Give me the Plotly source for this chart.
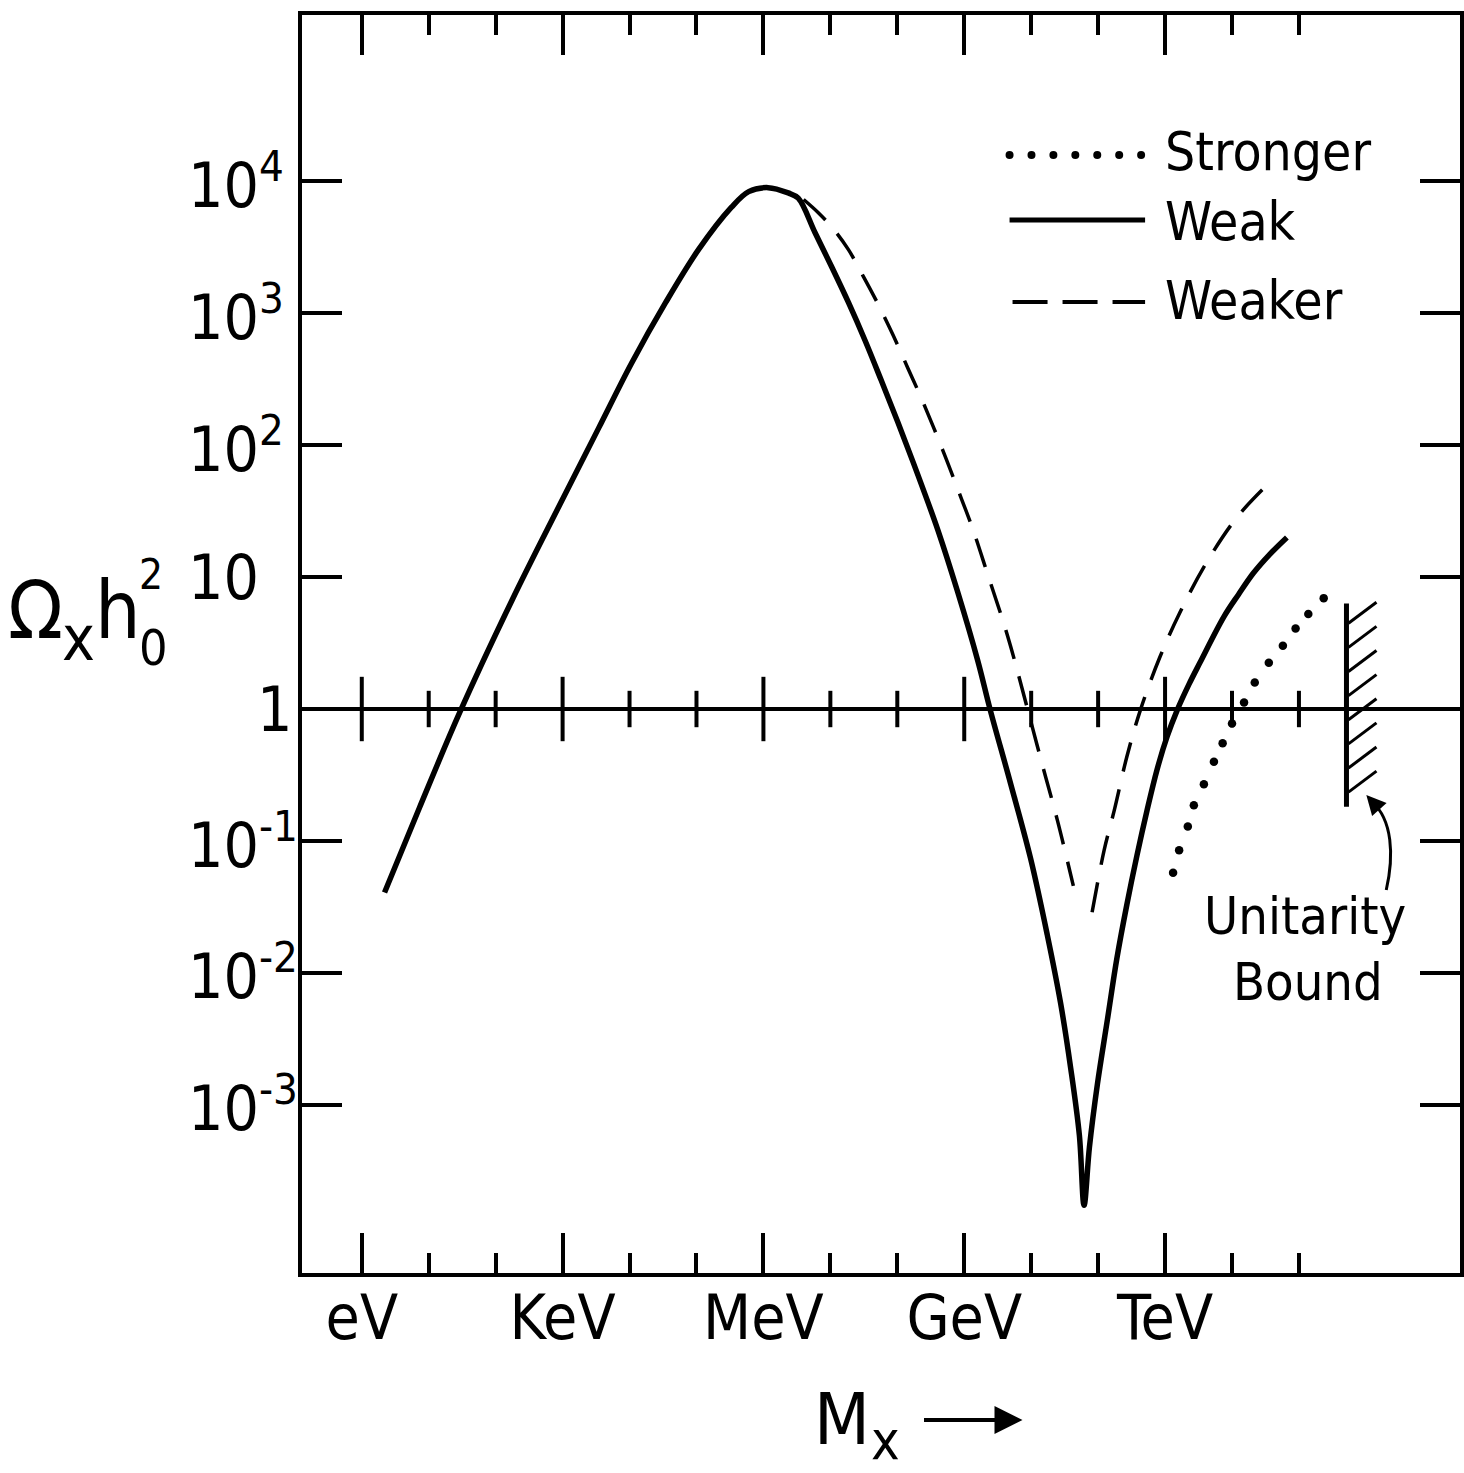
import plotly.graph_objects as go

# ---------------- data (log10 of M_x in eV, log10 of Omega_x h0^2) ----------------
weak_log_m = [0.34, 0.86, 1.46, 2.25, 2.95, 3.54, 4.03, 4.54, 5.03, 5.52, 5.78, 6.07, 6.37,
              6.52, 6.77, 7.01, 7.27, 7.52, 7.76, 8.01, 8.31, 8.61, 8.90, 9.20, 9.39, 9.69,
              9.99, 10.24, 10.44, 10.59, 10.72, 10.79, 10.87, 10.99, 11.14, 11.28, 11.43,
              11.58, 11.73, 11.88, 12.03, 12.18, 12.36, 12.52, 12.88, 13.10, 13.32, 13.56, 13.82]
weak_log_omega = [-1.39, -0.75, -0.03, 0.83, 1.54, 2.13, 2.62, 3.08, 3.48, 3.80, 3.92, 3.95, 3.91,
                  3.87, 3.61, 3.36, 3.08, 2.79, 2.49, 2.17, 1.77, 1.35, 0.89, 0.37, -0.01, -0.56,
                  -1.13, -1.71, -2.23, -2.72, -3.23, -3.76, -3.32, -2.84, -2.35, -1.89, -1.48,
                  -1.11, -0.77, -0.46, -0.21, -0.01, 0.19, 0.35, 0.70, 0.87, 1.03, 1.17, 1.30]

# "Weaker" curve: two branches separated by a gap (None)
weaker_log_m = [6.60, 6.82, 7.04, 7.27, 7.49, 7.71, 7.94, 8.16, 8.38, 8.68, 8.90, 9.13, 9.35,
                9.65, 9.94, 10.16, 10.39, 10.63, None,
                10.91, 11.09, 11.24, 11.43, 11.63, 11.92, 12.22, 12.62, 13.07, 13.47]
weaker_log_omega = [3.86, 3.76, 3.64, 3.48, 3.28, 3.07, 2.83, 2.58, 2.33, 1.96, 1.67, 1.36, 1.02,
                    0.55, 0.01, -0.41, -0.84, -1.34, None,
                    -1.54, -1.07, -0.77, -0.36, -0.01, 0.39, 0.73, 1.11, 1.45, 1.67]

# "Stronger" curve (drawn as dots)
stronger_log_m = [12.12, 12.21, 12.34, 12.43, 12.58, 12.73, 12.86, 13.00, 13.18, 13.34, 13.55,
                  13.76, 13.95, 14.14, 14.37]
stronger_log_omega = [-1.24, -1.07, -0.89, -0.73, -0.57, -0.40, -0.26, -0.11, 0.05, 0.20, 0.35,
                      0.48, 0.61, 0.72, 0.84]

# Unitarity bound
bound_log_m = 14.71
bound_log_omega = [-0.74, 0.80]

# axis ticks
x_major_decades = [0, 3, 6, 9, 12]
x_major_labels = ["eV", "KeV", "MeV", "GeV", "TeV"]
x_minor_decades = [1, 2, 4, 5, 7, 8, 10, 11, 13, 14]
y_decades = [-3, -2, -1, 0, 1, 2, 3, 4]
y_labels = ["10<sup>-3</sup>", "10<sup>-2</sup>", "10<sup>-1</sup>", "1", "10",
            "10<sup>2</sup>", "10<sup>3</sup>", "10<sup>4</sup>"]

legend_names = ["Stronger", "Weak", "Weaker"]

# ---------------- layout geometry ----------------
W, H = 1464, 1473
ML, MR, MT, MB = 302, 0, 15, 200
X_RANGE = [-0.893, 16.406]
Y_RANGE = [-4.273, 5.258]
FONT = "Liberation Sans Narrow, DejaVu Sans Condensed, Liberation Sans, DejaVu Sans, sans-serif"


def px(x):
    return (x - ML) / (W - ML - MR)


def py(y):
    return (H - MB - y) / (H - MT - MB)


def p10(vals):
    return [None if v is None else 10 ** v for v in vals]


fig = go.Figure()

# Weak (solid)
fig.add_trace(go.Scatter(x=p10(weak_log_m), y=p10(weak_log_omega), mode="lines",
                         line=dict(color="black", width=5.5, shape="spline", smoothing=1.0),
                         name=legend_names[1], showlegend=False))
# Weaker (dashed)
fig.add_trace(go.Scatter(x=p10(weaker_log_m), y=p10(weaker_log_omega), mode="lines",
                         connectgaps=False,
                         line=dict(color="black", width=3.5, dash="30px,18px", shape="spline", smoothing=1.0),
                         name=legend_names[2], showlegend=False))
# Stronger (dotted)
fig.add_trace(go.Scatter(x=p10(stronger_log_m), y=p10(stronger_log_omega), mode="markers",
                         marker=dict(color="black", size=8.5, symbol="circle"),
                         name=legend_names[0], showlegend=False))
# Unitarity bound line
fig.add_trace(go.Scatter(x=[10 ** bound_log_m] * 2, y=p10(bound_log_omega), mode="lines",
                         line=dict(color="black", width=5), showlegend=False))

# Omega = 1 line with crossing ticks
fig.add_shape(type="line", xref="paper", x0=0, x1=1, yref="y", y0=1, y1=1,
              line=dict(color="black", width=4))
fig.add_trace(go.Scatter(x=p10(x_major_decades), y=[1] * len(x_major_decades), mode="markers",
                         marker=dict(symbol="line-ns", size=46, line=dict(width=4, color="black")),
                         showlegend=False, hoverinfo="skip"))
fig.add_trace(go.Scatter(x=p10(x_minor_decades), y=[1] * len(x_minor_decades), mode="markers",
                         marker=dict(symbol="line-ns", size=26, line=dict(width=4, color="black")),
                         showlegend=False, hoverinfo="skip"))

# hatching of the unitarity bound
lo, hi = -0.63, 0.65
n_hatch = 8
for i in range(n_hatch):
    ya = lo + (hi - lo) * i / (n_hatch - 1)
    fig.add_shape(type="line", xref="x", yref="y", xsizemode="pixel", ysizemode="pixel",
                  xanchor=10 ** bound_log_m, yanchor=10 ** ya, x0=2, x1=30, y0=0, y1=21,
                  line=dict(color="black", width=3))

# curved arrow pointing to the bound
fig.add_shape(type="path", xref="paper", yref="paper",
              path=f"M {px(1390)},{py(890)} C {px(1398)},{py(855)} {px(1396)},{py(820)} {px(1376)},{py(802)}",
              line=dict(color="black", width=3))
fig.add_annotation(xref="paper", yref="paper", x=px(1370), y=py(795), ax=9, ay=10,
                   text="", showarrow=True, arrowhead=2, arrowsize=1.3, arrowwidth=3,
                   arrowcolor="black")
fig.add_annotation(xref="paper", yref="paper", x=px(1308), y=py(916), text="Unitarity",
                   showarrow=False, font=dict(family=FONT, size=52, color="black"),
                   xanchor="center", yanchor="middle")
fig.add_annotation(xref="paper", yref="paper", x=px(1311), y=py(982), text="Bound",
                   showarrow=False, font=dict(family=FONT, size=52, color="black"),
                   xanchor="center", yanchor="middle")

# custom legend
for i in range(7):
    xc = 1012 + i * (1144 - 1012) / 6
    fig.add_shape(type="circle", xref="paper", yref="paper", xsizemode="pixel", ysizemode="pixel",
                  xanchor=px(xc), yanchor=py(155), x0=-4, x1=4, y0=-4, y1=4,
                  fillcolor="black", line=dict(color="black", width=0))
fig.add_shape(type="line", xref="paper", yref="paper", x0=px(1012), x1=px(1148), y0=py(220), y1=py(220),
              line=dict(color="black", width=5))
fig.add_shape(type="line", xref="paper", yref="paper", x0=px(1015), x1=px(1148), y0=py(302), y1=py(302),
              line=dict(color="black", width=4, dash="35px,15px"))
for name, yy in zip(legend_names, [152, 222, 300]):
    fig.add_annotation(xref="paper", yref="paper", x=px(1166), y=py(yy), text=name, showarrow=False,
                       font=dict(family=FONT, size=53, color="black"), xanchor="left", yanchor="middle")

# y axis tick labels (hand placed as in the original lettering)
for d, lab in zip(y_decades, y_labels):
    fig.add_annotation(xref="paper", yref="y", x=px(255 if lab == "1" else 186), y=d, text=lab,
                       showarrow=False, font=dict(family=FONT, size=62, color="black"),
                       xanchor="left", yanchor="middle")

# y axis title (Omega_x h_0^2)
fig.add_annotation(xref="paper", yref="paper", x=px(35), y=py(610), text="Ω", showarrow=False,
                   font=dict(family=FONT, size=80, color="black"), xanchor="center", yanchor="middle")
fig.add_annotation(xref="paper", yref="paper", x=px(78), y=py(638), text="x", showarrow=False,
                   font=dict(family=FONT, size=62, color="black"), xanchor="center", yanchor="middle")
fig.add_annotation(xref="paper", yref="paper", x=px(117), y=py(610), text="h", showarrow=False,
                   font=dict(family=FONT, size=80, color="black"), xanchor="center", yanchor="middle")
fig.add_annotation(xref="paper", yref="paper", x=px(150), y=py(574), text="2", showarrow=False,
                   font=dict(family=FONT, size=42, color="black"), xanchor="center", yanchor="middle")
fig.add_annotation(xref="paper", yref="paper", x=px(153), y=py(648), text="0", showarrow=False,
                   font=dict(family=FONT, size=50, color="black"), xanchor="center", yanchor="middle")

# x axis title M_x ->
fig.add_annotation(xref="paper", yref="paper", x=px(844), y=py(1419), text="M",
                   showarrow=False, font=dict(family=FONT, size=72, color="black"),
                   xanchor="center", yanchor="middle")
fig.add_annotation(xref="paper", yref="paper", x=px(888), y=py(1440), text="x",
                   showarrow=False, font=dict(family=FONT, size=54, color="black"),
                   xanchor="center", yanchor="middle")
fig.add_annotation(xref="paper", yref="paper", x=px(1025), y=py(1420), ax=-100, ay=0, text="",
                   showarrow=True, arrowhead=2, arrowsize=1.4, arrowwidth=4, arrowcolor="black")

axis_common = dict(showline=True, linewidth=4, linecolor="black", mirror="ticks", ticks="inside",
                   ticklen=40, tickwidth=4, tickcolor="black", showgrid=False, zeroline=False)

fig.update_layout(
    width=W, height=H, margin=dict(l=ML, r=MR, t=MT, b=MB, pad=0),
    paper_bgcolor="white", plot_bgcolor="white", showlegend=False,
    xaxis=dict(type="log", range=X_RANGE, tickmode="array", tickvals=p10(x_major_decades),
               ticktext=x_major_labels, tickfont=dict(family=FONT, size=62, color="black"),
               ticklabelstandoff=-12,
               minor=dict(tickmode="array", tickvals=p10(x_minor_decades), ticks="inside",
                          ticklen=20, tickwidth=4, tickcolor="black", showgrid=False),
               **axis_common),
    yaxis=dict(type="log", range=Y_RANGE, tickmode="array", tickvals=p10(y_decades),
               showticklabels=False, **axis_common),
)

fig.write_html("out.html", config={"displayModeBar": False},
               post_script="document.body.style.margin='0';document.body.style.overflow='hidden';")
